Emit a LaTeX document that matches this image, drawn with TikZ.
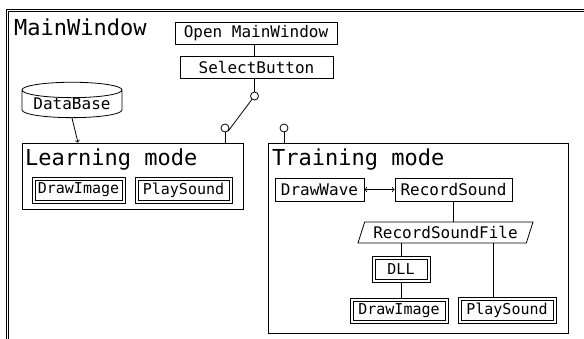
\documentclass[tikz,border=0pt]{standalone}
\usepackage{fontspec}
\newfontfamily\gothic{DejaVu Sans Mono}
\usetikzlibrary{shapes.geometric}

\begin{document}
\begin{tikzpicture}[x=1pt, y=-1pt, >=to,
    every node/.style={font=\gothic\fontsize{16}{18}\selectfont},
    box/.style={draw, rectangle, inner sep=0pt, line width=0.8pt},
    dbox/.style={box, font=\gothic\fontsize{15}{17}\selectfont, path picture={
        \draw[line width=0.8pt]
            ([shift={(3pt,-3pt)}]path picture bounding box.north west) rectangle
            ([shift={(-3pt,3pt)}]path picture bounding box.south east);}},
    title/.style={anchor=west, inner sep=0pt, font=\gothic\fontsize{22}{24}\selectfont},
    pinc/.style={draw, circle, fill=white, minimum size=8pt, inner sep=0pt, line width=0.8pt}]

    \useasboundingbox (0,0) rectangle (584,338);
    \clip (0,0) rectangle (584,338);

    % MainWindow frame
    \draw[double, line width=0.9pt, double distance=1.6pt] (7.5,350) -- (7.5,10.5) -- (600,10.5);
    \node[title] (mwtitle) at (14,27) {MainWindow};

    % start up
    \node[box, minimum width=162, minimum height=22] (open) at (256,33) {Open MainWindow};
    \node[box, minimum width=153, minimum height=22] (sel) at (256.5,67) {SelectButton};

    % switch
    \node[pinc] (swtop) at (254.5,96) {};
    \node[pinc] (swl) at (225,128) {};
    \node[pinc] (swr) at (284,128) {};

    % database
    \node[draw, cylinder, shape border rotate=90, aspect=0.2, line width=0.8pt,
          minimum width=100, minimum height=33, inner sep=0pt] (db) at (72,104) {DataBase};

    % Learning mode
    \node[box, minimum width=221, minimum height=66] (learn) at (132.5,176) {};
    \node[title] (learntitle) at (25,160) {Learning mode};
    \node[dbox, minimum width=93, minimum height=26] (img1) at (78.5,190) {DrawImage};
    \node[dbox, minimum width=97, minimum height=26] (ps1) at (183.5,190) {PlaySound};

    % Training mode
    \node[box, minimum width=300, minimum height=190] (train) at (418,238) {};
    \node[title] (traintitle) at (272,160) {Training mode};
    \node[box, minimum width=89, minimum height=23] (wave) at (319.5,189.5) {DrawWave};
    \node[box, minimum width=117, minimum height=23] (rec) at (453.5,189.5) {RecordSound};
    \node[draw, trapezium, trapezium left angle=64.5, trapezium right angle=115.5,
          trapezium stretches=true, line width=0.8pt, inner sep=0pt,
          minimum width=175, minimum height=21] (rsf) at (445.5,232.5) {RecordSoundFile};
    \node[dbox, minimum width=58, minimum height=26] (dll) at (401,269) {DLL};
    \node[dbox, minimum width=98, minimum height=25] (img2) at (399,310.5) {DrawImage};
    \node[dbox, minimum width=98, minimum height=26] (ps2) at (507,310) {PlaySound};

    % connectors
    \draw[line width=0.8pt] (open.south -| swtop) -- (sel.north -| swtop);
    \draw[line width=0.8pt] (sel.south -| swtop) -- (swtop);
    \draw[line width=0.8pt] (swtop) -- (swl.south east);
    \draw[line width=0.8pt] (swl) -- (learn.north -| swl);
    \draw[line width=0.8pt] (swr) -- (train.north -| swr);
    \draw[->, line width=0.8pt] (db.south) -- ([xshift=-54.5pt]learn.north);
    \draw[<->, line width=0.8pt] (wave) -- (rec);
    \draw[line width=0.8pt] (rec.south) -- (rec.south |- rsf.north);
    \draw[line width=0.8pt] (dll.north) -- (dll.north |- rsf.south);
    \draw[line width=0.8pt] (dll.south) -- (dll.south |- img2.north);
    \draw[line width=0.8pt] ([xshift=-14pt]ps2.north) -- ([xshift=-14pt]ps2.north |- rsf.south);

\end{tikzpicture}
\end{document}
